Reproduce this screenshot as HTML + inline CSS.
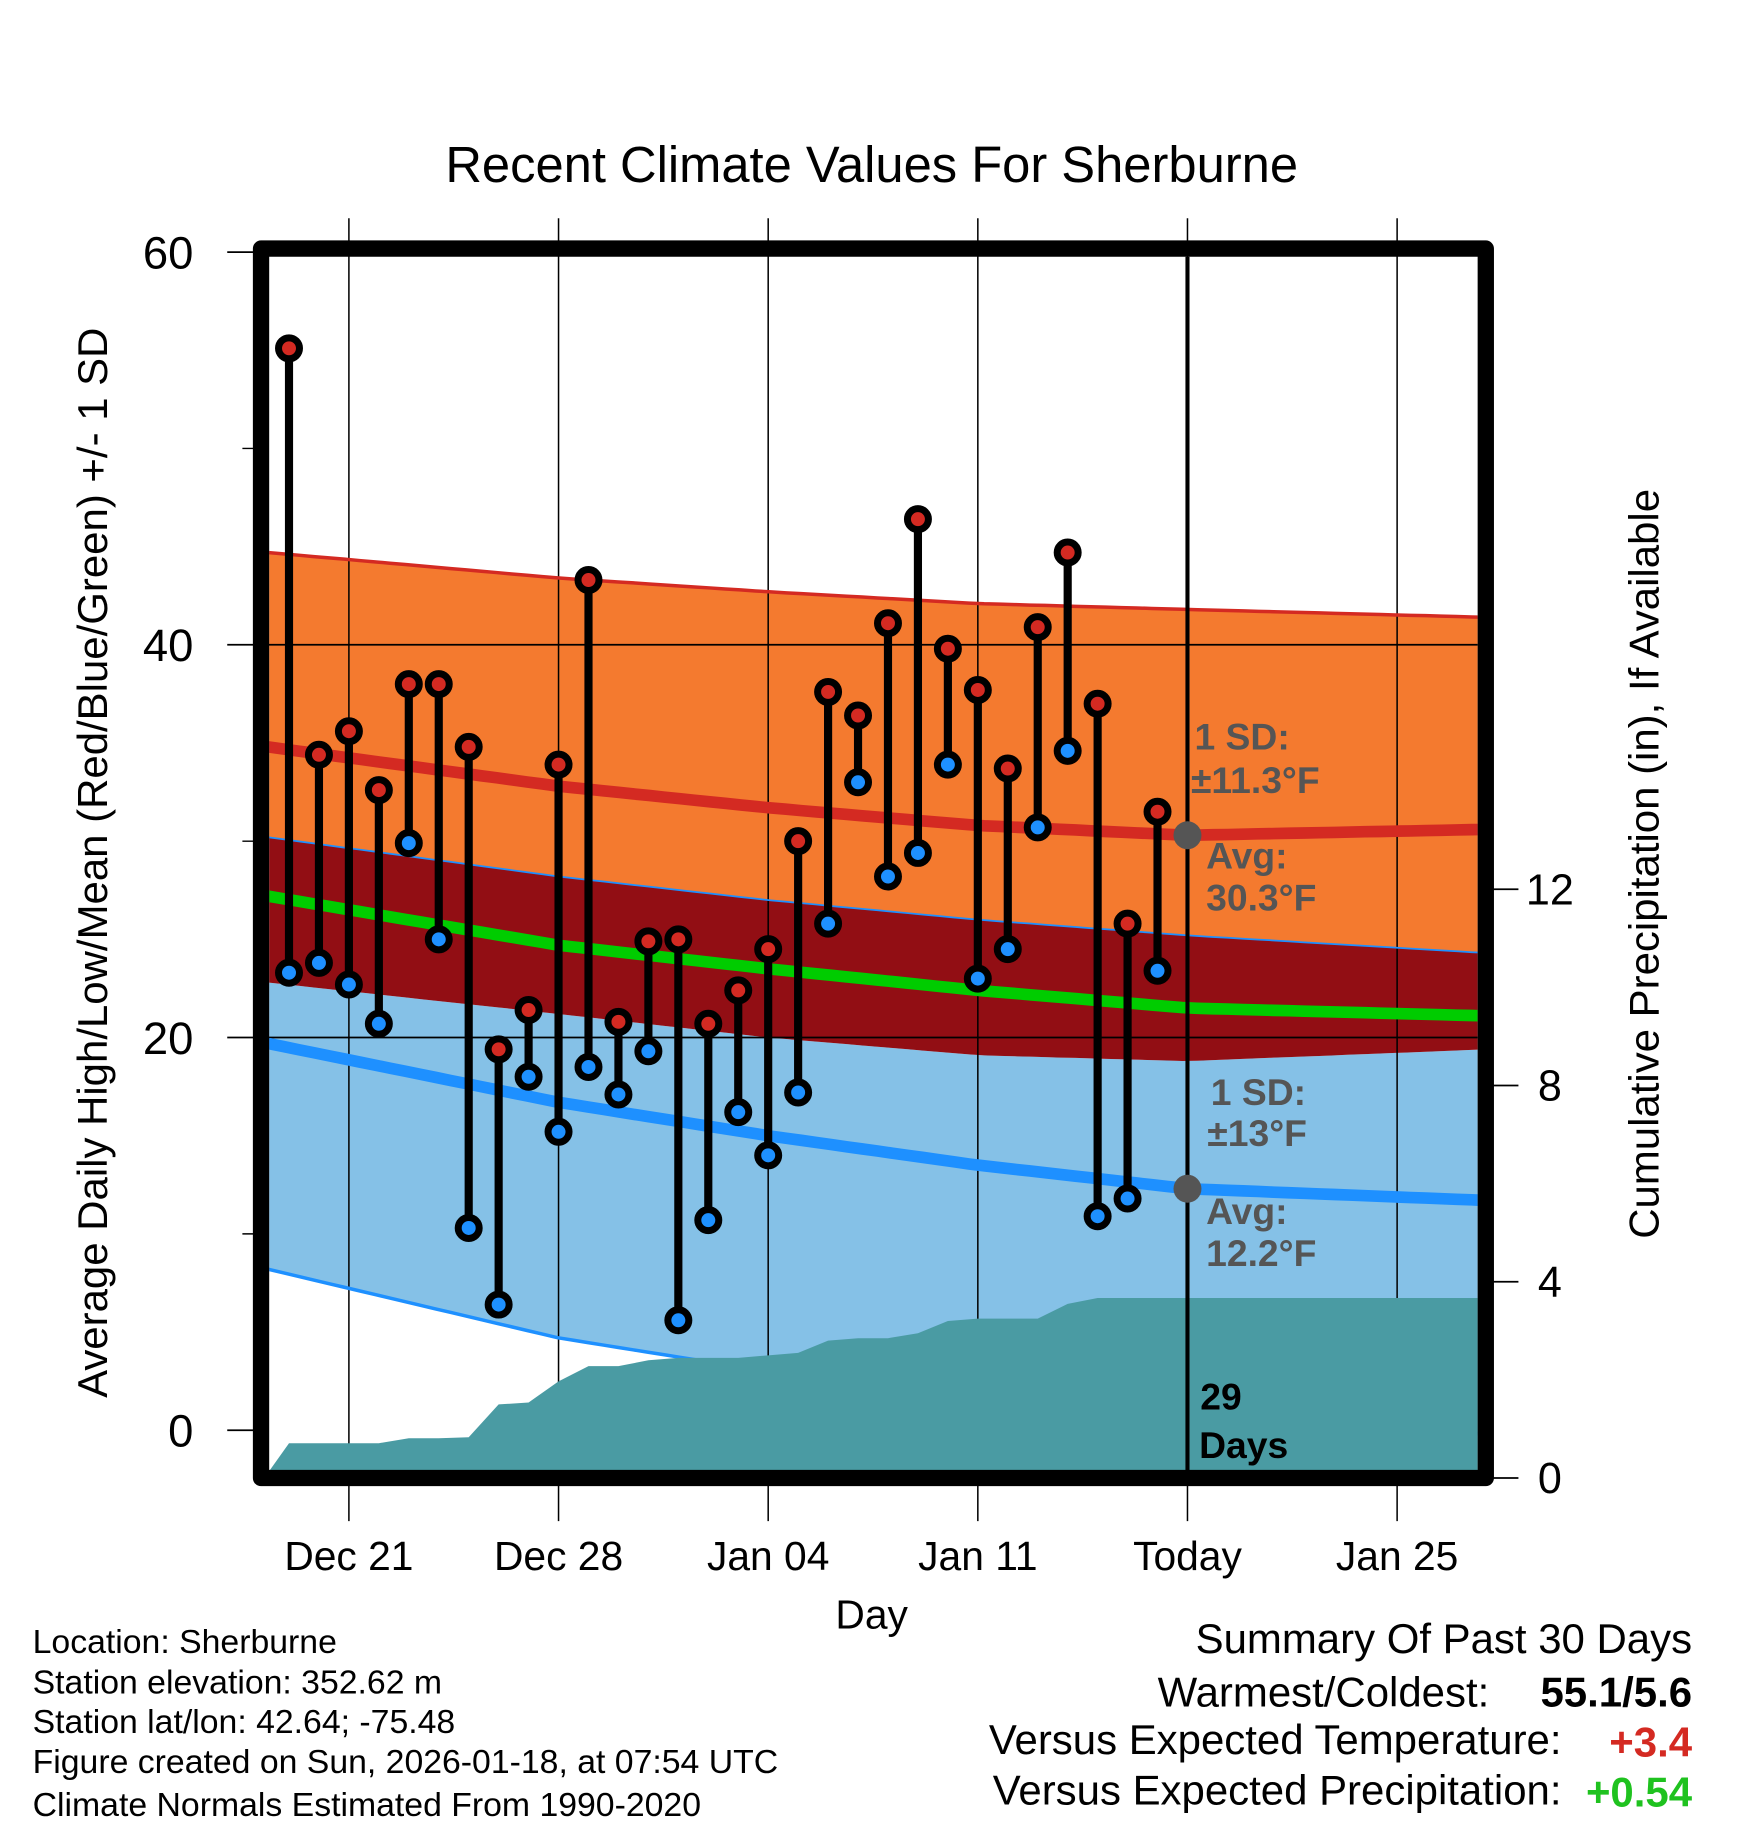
<!DOCTYPE html>
<html><head><meta charset="utf-8"><style>
html,body{margin:0;padding:0;background:#fff}
svg{display:block}
text{font-family:"Liberation Sans",Arial,sans-serif}
</style></head><body>
<svg id="chart" width="1748" height="1828" viewBox="0 0 1500 1568" xmlns="http://www.w3.org/2000/svg">
<defs><clipPath id="pc"><rect x="231" y="220" width="1037" height="1042"/></clipPath></defs>
<rect x="0" y="0" width="1500" height="1568" fill="#fff"/>
<text x="748" y="156" font-size="43.5" text-anchor="middle">Recent Climate Values For Sherburne</text>
<g id="fills" clip-path="url(#pc)"></g>
<g id="grid"></g>
<g id="lines" clip-path="url(#pc)"></g>
<g id="precipg" clip-path="url(#pc)"></g>
<g id="marks"></g>
<g id="annot"></g>
<rect x="224" y="213" width="1051" height="1055" fill="none" stroke="#000" stroke-width="14" stroke-linejoin="round"/>
<g id="axes"></g>
<text transform="translate(92,740) rotate(-90)" font-size="36" text-anchor="middle">Average Daily High/Low/Mean (Red/Blue/Green) +/- 1 SD</text>
<text transform="translate(1423,741) rotate(-90)" font-size="36" text-anchor="middle">Cumulative Precipitation (in), If Available</text>
<text x="748" y="1397" font-size="35" text-anchor="middle">Day</text>
<g font-size="29">
<text x="28" y="1418">Location: Sherburne</text>
<text x="28" y="1453">Station elevation: 352.62 m</text>
<text x="28" y="1487">Station lat/lon: 42.64; -75.48</text>
<text x="28" y="1521">Figure created on Sun, 2026-01-18, at 07:54 UTC</text>
<text x="28" y="1558">Climate Normals Estimated From 1990-2020</text>
</g>
<g font-size="36">
<text x="1452" y="1418" text-anchor="end">Summary Of Past 30 Days</text>
<text x="1278" y="1464" text-anchor="end">Warmest/Coldest:</text>
<text x="1452" y="1464" text-anchor="end" font-weight="bold">55.1/5.6</text>
<text x="1340" y="1505" text-anchor="end">Versus Expected Temperature:</text>
<text x="1452" y="1507" text-anchor="end" font-weight="bold" fill="#d42a22">+3.4</text>
<text x="1340" y="1548" text-anchor="end">Versus Expected Precipitation:</text>
<text x="1452" y="1550" text-anchor="end" font-weight="bold" fill="#1fc21f">+0.54</text>
</g>
</svg>
<script>
const highs=[55.1,34.4,35.6,32.6,38.0,38.0,34.8,19.4,21.4,33.9,43.3,20.8,24.9,25.0,20.7,22.4,24.5,30.0,37.6,36.4,41.1,46.4,39.8,37.7,33.7,40.9,44.7,37.0,25.8,31.5];
const lows=[23.3,23.8,22.7,20.7,29.9,25.0,10.3,6.4,18.0,15.2,18.5,17.1,19.3,5.6,10.7,16.2,14.0,17.2,25.8,33.0,28.2,29.4,33.9,23.0,24.5,30.7,34.6,10.9,11.8,23.4];
const precip=[0.71,0.71,0.71,0.71,0.81,0.81,0.83,1.5,1.54,1.97,2.28,2.28,2.4,2.45,2.45,2.45,2.5,2.55,2.8,2.85,2.85,2.95,3.2,3.25,3.25,3.25,3.55,3.67,3.67,3.67];
const normDays=[-0.7,9,16,23,30,40];
const hiUp=[44.7,43.4,42.7,42.1,41.8,41.4];
const hiAvg=[34.8,32.8,31.7,30.8,30.3,30.6];
const hiDn=[30.2,28.2,27.0,26.0,25.2,24.3];
const meanT=[27.2,24.7,23.5,22.4,21.5,21.1];
const loUp=[22.8,21.2,20.0,19.1,18.8,19.4];
const loAvg=[19.7,16.7,15.0,13.5,12.3,11.7];
const loDn=[8.2,4.7,3.0,1.6,0.7,-0.2];
const xTickDays=[2,9,16,23,30,37];
const xTickLabels=["Dec 21","Dec 28","Jan 04","Jan 11","Today","Jan 25"];
const yTicks=[0,20,40,60];
const yMinor=[10,30,50];
const pTicks=[0,4,8,12];

const NS="http://www.w3.org/2000/svg";
const X=d=>248+d*25.7;
const Y=t=>1227-t*16.85;
const P=v=>1268-v*42.1;
function mk(tag,attrs,parent){const e=document.createElementNS(NS,tag);for(const k in attrs)e.setAttribute(k,attrs[k]);document.getElementById(parent).appendChild(e);return e;}
function interp(arr,d){for(let i=0;i<normDays.length-1;i++){if(d<=normDays[i+1]){const f=(d-normDays[i])/(normDays[i+1]-normDays[i]);return arr[i]+f*(arr[i+1]-arr[i]);}}return arr[arr.length-1];}
const fine=[];const d0=normDays[0],d1=normDays[normDays.length-1];for(let k=0;k<=80;k++)fine.push(d0+(d1-d0)*k/80);
const pts=arr=>fine.map(d=>X(d).toFixed(1)+","+Y(interp(arr,d)).toFixed(1));
function band(a,b,fill,name){const p=pts(a).concat(pts(b).reverse());const e=mk('polygon',{points:p.join(' '),fill:fill},'fills');

}
band(loUp,loDn,'#85c1e7','low-sd-band');
band(hiDn,loUp,'#920e14','mid-band');
band(hiUp,hiDn,'#f47a2f','high-sd-band');
let pp=[X(-0.66)+","+1262];precip.forEach((v,i)=>pp.push(X(i)+","+P(v)));pp.push("1270,"+P(precip[precip.length-1]));pp.push("1270,1262");
const pe=mk('polygon',{points:pp.join(' '),fill:'#4a9ba3'},'precipg');


xTickDays.forEach((d,i)=>{const l=mk('line',{x1:X(d),x2:X(d),y1:187,y2:1305,stroke:'#000','stroke-width':1.3},'grid');


const t=mk('text',{x:X(d),y:1347,'font-size':35,'text-anchor':'middle'},'axes');t.textContent=xTickLabels[i];

});
yTicks.forEach(v=>{const l=mk('line',{x1:195,x2:v===0||v===60?224:1268,y1:Y(v),y2:Y(v),stroke:'#000','stroke-width':1.5},'grid');


const t=mk('text',{x:166,y:Y(v)+14,'font-size':39,'text-anchor':'end'},'axes');t.textContent=v;

});
yMinor.forEach(v=>{const l=mk('line',{x1:208,x2:224,y1:Y(v),y2:Y(v),stroke:'#000','stroke-width':1.2},'grid');

});
pTicks.forEach(v=>{const l=mk('line',{x1:1275,x2:1303,y1:P(v),y2:P(v),stroke:'#000','stroke-width':1.5},'axes');


const t=mk('text',{x:1330,y:P(v)+13,'font-size':37,'text-anchor':'middle'},'axes');t.textContent=v;

});
function line(arr,col,w,name){const e=mk('polyline',{points:pts(arr).join(' '),fill:'none',stroke:col,'stroke-width':w},'lines');

}
line(hiUp,'#d42a22',3,'high-plus-sd-line');
line(hiDn,'#1e90ff',1.5,'high-minus-sd-line');
line(loDn,'#1e90ff',3,'low-minus-sd-line');
line(hiAvg,'#d42a22',10,'avg-high-line');
line(loAvg,'#1e90ff',10,'avg-low-line');
line(meanT,'#00cc00',10,'mean-line');
const tl=mk('line',{x1:X(30),x2:X(30),y1:220,y2:1262,stroke:'#000','stroke-width':3.5},'marks');


highs.forEach((h,i)=>{const x=X(i);
const s=mk('line',{x1:x,x2:x,y1:Y(h),y2:Y(lows[i]),stroke:'#000','stroke-width':7},'marks');


const c1=mk('circle',{cx:x,cy:Y(h),r:9,fill:'#d42a22',stroke:'#000','stroke-width':6},'marks');


const c2=mk('circle',{cx:x,cy:Y(lows[i]),r:9,fill:'#1e90ff',stroke:'#000','stroke-width':6},'marks');

});
const todayHi=interp(hiAvg,30),todayLo=interp(loAvg,30);
[[todayHi,'avg-high-today-marker'],[todayLo,'avg-low-today-marker']].forEach(a=>{const c=mk('circle',{cx:X(30),cy:Y(a[0]),r:12,fill:'#555'},'annot');

});
function txt(x,y,s,col,name){const t=mk('text',{x:x,y:y,'font-size':32,'font-weight':'bold',fill:col},'annot');t.textContent=s;

}
txt(1025,643,'1 SD:','#555','high-sd-label');txt(1022,680,'\u00b111.3\u00b0F','#555','high-sd-value');
txt(1035,745,'Avg:','#555','avg-high-label');txt(1035,781,'30.3\u00b0F','#555','avg-high-value');
txt(1039,948,'1 SD:','#555','low-sd-label');txt(1036,983,'\u00b113\u00b0F','#555','low-sd-value');
txt(1035,1050,'Avg:','#555','avg-low-label');txt(1035,1086,'12.2\u00b0F','#555','avg-low-value');
txt(1030,1209,'29','#000','days-count');txt(1029,1251,'Days','#000','days-label');
</script>
</body></html>
